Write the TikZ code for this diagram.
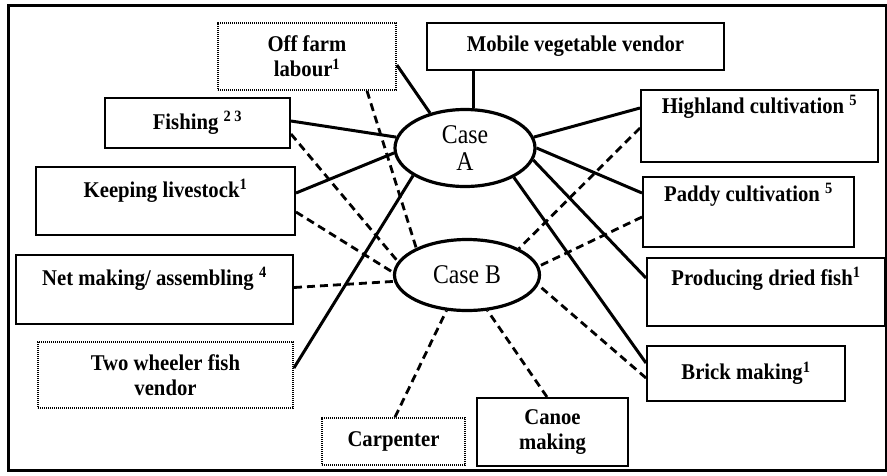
\documentclass[tikz,border=0pt]{standalone}
\usepackage{fontspec}
\setmainfont{Liberation Serif}[FakeStretch=0.92]
\newfontfamily\casefont{Liberation Serif}[FakeStretch=0.88]
\usetikzlibrary{shapes.geometric}
\begin{document}
\begin{tikzpicture}[x=1pt,y=-1pt,
  box/.style={draw,line width=2pt,rectangle,inner sep=0pt,font=\fontsize{22.5}{25}\selectfont\bfseries,align=center},
  dotbox/.style={box,line width=1.8pt,dash pattern=on 1.3pt off 0.7pt},
  casenode/.style={draw,ellipse,line width=3.2pt,inner sep=0pt,font=\casefont\fontsize{27}{27}\selectfont,align=center},
  solidline/.style={line width=3pt},
  dashline/.style={line width=2.8pt,dash pattern=on 8pt off 5pt},
  toplab/.style={anchor=north,font=\fontsize{22.5}{25}\selectfont\bfseries}
]
\useasboundingbox (0,0) rectangle (887,475);
\draw[line width=3pt] (8,5) rectangle (886,470);

% boxes
\node[dotbox,minimum width=178pt,minimum height=67pt] (off) at (307,56.5) {Off farm\\labour\textsuperscript{1}};
\node[box,minimum width=297pt,minimum height=47pt] (mob) at (575.5,46.5) {Mobile vegetable vendor};
\node[box,minimum width=185pt,minimum height=50pt] (fish) at (197.5,123) {Fishing \textsuperscript{2 3}};
\node[box,minimum width=259pt,minimum height=68pt,
  label={[toplab,yshift=-10pt]north:Keeping livestock\textsuperscript{1}}] (live) at (165.5,201) {};
\node[box,minimum width=277pt,minimum height=69pt,
  label={[toplab,yshift=-10pt]north:Net making/ assembling \textsuperscript{4}}] (net) at (154.5,289.5) {};
\node[dotbox,minimum width=255pt,minimum height=66pt] (two) at (165.5,375) {Two wheeler fish\\vendor};
\node[dotbox,minimum width=143pt,minimum height=47pt] (carp) at (393.5,441.5) {Carpenter};
\node[box,minimum width=151pt,minimum height=68pt] (canoe) at (552.5,432) {Canoe\\making};
\node[box,minimum width=198pt,minimum height=55pt] (brick) at (746,373.5) {Brick making\textsuperscript{1}};
\node[box,minimum width=238pt,minimum height=68pt,
  label={[toplab,yshift=-7pt]north:Producing dried fish\textsuperscript{1}}] (dried) at (766,292) {};
\node[box,minimum width=237pt,minimum height=72pt,
  label={[toplab,yshift=-3pt]north:Highland cultivation \textsuperscript{5}}] (high) at (759.5,126) {};
\node[box,minimum width=211pt,minimum height=70pt,
  label={[toplab,yshift=-4pt]north:Paddy cultivation \textsuperscript{5}}] (paddy) at (748.5,212) {};

% cases
\node[casenode,minimum width=140pt,minimum height=77pt] (A) at (465,148) {Case\\A};
\node[casenode,minimum width=145pt,minimum height=71pt] (B) at (467,275) {Case B};

% Case A solid connectors
\draw[solidline] ([xshift=-102pt]mob.south) -- ([xshift=-102pt]mob.south |- A.north);
\draw[solidline] ([yshift=-8.5pt]off.east) -- (A.135);
\draw[solidline] ([yshift=2pt]fish.east) -- (A.171);
\draw[solidline] ([yshift=8pt]live.east) -- (A.184);
\draw[solidline] ([yshift=7pt]two.east) -- (A.208);
\draw[solidline] ([yshift=18pt]high.west) -- (A.9);
\draw[solidline] ([yshift=19pt]paddy.west) -- (A.0);
\draw[solidline] ([yshift=14pt]dried.west) -- (A.350);
\draw[solidline] ([yshift=10.5pt]brick.west) -- (A.329);

% Case B dashed connectors
\draw[dashline] ([xshift=60pt]off.south) -- (B.152);
\draw[dashline] ([yshift=-11pt]fish.east) -- (B.169);
\draw[dashline] ([yshift=-11pt]live.east) -- (B.178);
\draw[dashline] ([yshift=2pt]net.east) -- (B.185);
\draw[dashline] ([xshift=1.5pt]carp.north) -- (B.240);
\draw[dashline] ([xshift=-5.5pt]canoe.north) -- (B.300);
\draw[dashline] ([yshift=-4.5pt]brick.west) -- (B.352);
\draw[dashline] ([yshift=-5pt]paddy.west) -- (B.7);
\draw[dashline] ([yshift=-2pt]high.west) -- (B.27);
\end{tikzpicture}
\end{document}
